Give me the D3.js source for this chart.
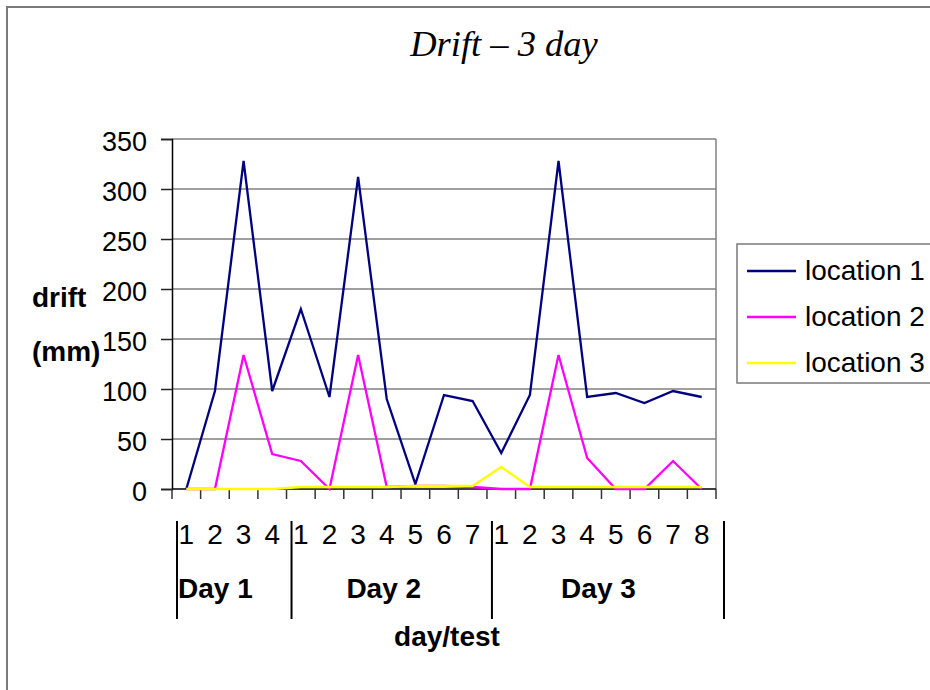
<!DOCTYPE html>
<html>
<head>
<meta charset="utf-8">
<script src="https://cdn.jsdelivr.net/npm/d3@7"></script>
<style>
  html, body { margin: 0; padding: 0; background: #ffffff; }
  svg { display: block; }
  text { font-family: "Liberation Sans", Arial, sans-serif; fill: #000; }
</style>
</head>
<body>
<svg id="chart" width="930" height="690"></svg>
<script>
// Test days and the number of tests run on each
const days = ["Day 1", "Day 2", "Day 3"];
const testsPerDay = [4, 7, 8];

// Test number within each day (second-level category labels)
const testLabels = ["1", "2", "3", "4",
                    "1", "2", "3", "4", "5", "6", "7",
                    "1", "2", "3", "4", "5", "6", "7", "8"];

// Drift readings (mm) per test
const location1 = [0, 98, 328, 98, 180, 92, 312, 90, 5, 94, 88, 36, 94, 328, 92, 96, 86, 98, 92];
const location2 = [0, 0, 134, 35, 28, 0, 134, 2, 3, 3, 2, 0, 0, 134, 31, 0, 0, 28, 0];
const location3 = [0, 0, 0, 0, 2, 2, 2, 2, 3, 3, 3, 22, 2, 2, 2, 2, 2, 2, 2];

const seriesNames = ["location 1", "location 2", "location 3"];
const seriesColors = ["#000080", "#FF00FF", "#FFFF00"];

const yTicks = [0, 50, 100, 150, 200, 250, 300, 350];

const titleText = "Drift \u2013 3 day";
const yTitle = ["drift", "(mm)"];
const xTitle = "day/test";

// ---- layout ----
const plot = { left: 172, right: 716, top: 139, bottom: 489 };
const svg = d3.select("#chart");

// outer chart frame (runs off the right and bottom edges)
svg.append("rect")
  .attr("x", 7).attr("y", 7)
  .attr("width", 960).attr("height", 720)
  .attr("fill", "#fff")
  .attr("stroke", "#7a7a7a")
  .attr("stroke-width", 2);

const idx = d3.range(testLabels.length);
const x = d3.scalePoint().domain(idx).range([plot.left, plot.right]).padding(0.5);
const step = x.step();
const y = d3.scaleLinear().domain([0, 350]).range([plot.bottom, plot.top]);

// gridlines
svg.append("g")
  .selectAll("line")
  .data(yTicks.filter(v => v > 0))
  .join("line")
  .attr("x1", plot.left).attr("x2", plot.right)
  .attr("y1", d => y(d)).attr("y2", d => y(d))
  .attr("stroke", "#808080")
  .attr("stroke-width", 1.5);

// right edge of plot area
svg.append("line")
  .attr("x1", plot.right).attr("x2", plot.right)
  .attr("y1", plot.top).attr("y2", plot.bottom)
  .attr("stroke", "#808080")
  .attr("stroke-width", 1.5);

// y axis
const yAxis = d3.axisLeft(y).tickValues(yTicks).tickSize(11).tickPadding(14);
const gy = svg.append("g")
  .attr("transform", `translate(${plot.left},0)`)
  .call(yAxis);
gy.select(".domain").attr("stroke", "#000").attr("stroke-width", 1.5);
gy.selectAll(".tick line").attr("stroke", "#222").attr("stroke-width", 1.5);
gy.selectAll(".tick text")
  .attr("font-family", "Liberation Sans, Arial, sans-serif")
  .attr("font-size", 27)
  .attr("dy", "0.42em")
  .attr("fill", "#000");

// x axis baseline and category boundary ticks
const boundaries = idx.map(i => x(i) - step / 2).concat([x(idx.length - 1) + step / 2]);
svg.append("line")
  .attr("x1", plot.left).attr("x2", plot.right)
  .attr("y1", plot.bottom).attr("y2", plot.bottom)
  .attr("stroke", "#000").attr("stroke-width", 1.5);
svg.append("g")
  .selectAll("line")
  .data(boundaries)
  .join("line")
  .attr("x1", d => d).attr("x2", d => d)
  .attr("y1", plot.bottom).attr("y2", plot.bottom + 10)
  .attr("stroke", "#333").attr("stroke-width", 1.5);

// series lines
const lineGen = d3.line().x((d, i) => x(i)).y(d => y(d));
[location1, location2, location3].forEach((vals, k) => {
  svg.append("path")
    .datum(vals)
    .attr("d", lineGen)
    .attr("fill", "none")
    .attr("stroke", seriesColors[k])
    .attr("stroke-width", 2.3)
    .attr("stroke-linejoin", "miter");
});

// test number labels
svg.append("g")
  .selectAll("text")
  .data(testLabels)
  .join("text")
  .attr("x", (d, i) => x(i))
  .attr("y", 544)
  .attr("text-anchor", "middle")
  .attr("font-size", 28)
  .text(d => d);

// day groups: separators and labels
let start = 0;
const groups = days.map((name, g) => {
  const first = start, last = start + testsPerDay[g] - 1;
  start += testsPerDay[g];
  return { name, first, last };
});
const sepX = groups.map(gr => x(gr.first) - step / 2 + 5)
  .concat([x(groups[groups.length - 1].last) + step / 2 + 8]);
svg.append("g")
  .selectAll("line")
  .data(sepX)
  .join("line")
  .attr("x1", d => d).attr("x2", d => d)
  .attr("y1", 521).attr("y2", 619)
  .attr("stroke", "#000").attr("stroke-width", 2);

svg.append("g")
  .selectAll("text")
  .data(groups)
  .join("text")
  .attr("x", (d, g) => g === 0 ? sepX[0] + 1 : (x(d.first) + x(d.last)) / 2 - 3)
  .attr("y", 598)
  .attr("text-anchor", (d, g) => g === 0 ? "start" : "middle")
  .attr("font-size", 28)
  .attr("font-weight", "bold")
  .text(d => d.name);

// axis titles
svg.append("text")
  .attr("x", (plot.left + plot.right) / 2 + 3)
  .attr("y", 646)
  .attr("text-anchor", "middle")
  .attr("font-size", 28)
  .attr("font-weight", "bold")
  .text(xTitle);

svg.append("g")
  .selectAll("text")
  .data(yTitle)
  .join("text")
  .attr("x", 32)
  .attr("y", (d, i) => 307 + i * 54)
  .attr("font-size", 28)
  .attr("font-weight", "bold")
  .text(d => d);

// chart title
svg.append("text")
  .attr("x", 504)
  .attr("y", 56)
  .attr("text-anchor", "middle")
  .style("font-family", "'Liberation Serif', 'Times New Roman', serif")
  .attr("font-style", "italic")
  .attr("font-size", 36.5)
  .text(titleText);

// legend
const legend = svg.append("g");
legend.append("rect")
  .attr("x", 737).attr("y", 244)
  .attr("width", 220).attr("height", 139)
  .attr("fill", "#fff")
  .attr("stroke", "#7a7a7a")
  .attr("stroke-width", 1.5);
const rows = legend.selectAll("g.row")
  .data(seriesNames)
  .join("g")
  .attr("class", "row")
  .attr("transform", (d, i) => `translate(747,${271 + i * 46})`);
rows.append("line")
  .attr("x1", 0).attr("x2", 49)
  .attr("y1", 0).attr("y2", 0)
  .attr("stroke", (d, i) => seriesColors[i])
  .attr("stroke-width", 2.3);
rows.append("text")
  .attr("x", 58)
  .attr("y", 9)
  .attr("font-size", 28)
  .text(d => d);
</script>
</body>
</html>
